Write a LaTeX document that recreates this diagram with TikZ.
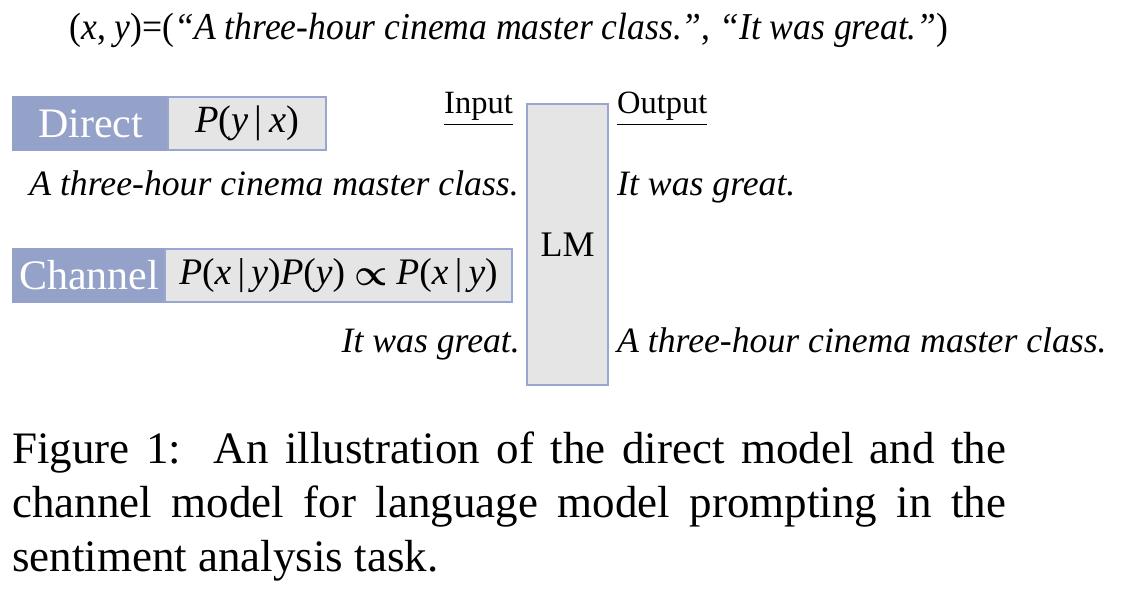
\documentclass[tikz,border=0pt]{standalone}
\usepackage{fontspec}
\usepackage{graphicx}
\usepackage{amsmath}
\usepackage{amssymb}
\usepackage{bm}
\setmainfont{Liberation Serif}
\definecolor{lmblue}{RGB}{148,162,202}
\definecolor{lmborder}{RGB}{152,166,208}
\definecolor{lmgray}{RGB}{229,229,229}
\tikzset{
  bluebox/.style={rectangle,fill=lmblue,draw=lmblue,line width=1.5pt,inner sep=0pt,outer sep=0pt,anchor=north west,text=white,font=\fontsize{42}{46}\selectfont},
  graybox/.style={rectangle,fill=lmgray,draw=lmborder,line width=1.5pt,inner sep=0pt,outer sep=0pt,anchor=north west,font=\fontsize{38.5}{42}\selectfont},
  ital/.style={inner sep=0pt,font=\fontsize{35.7}{40}\selectfont\itshape},
  lbl/.style={inner sep=0pt,font=\fontsize{32.5}{36}\selectfont},
  captxt/.style={inner sep=0pt,anchor=base west,font=\fontsize{45}{54}\selectfont}
}
\begin{document}
\begin{tikzpicture}[x=1pt,y=-1pt]
\useasboundingbox (0,0) rectangle (1124,592);
% title
\node[inner sep=0pt,anchor=base,xscale=0.936,font=\fontsize{38}{42}\selectfont] (title) at (509,39) {(\textit{x}, \textit{y})=(\textit{“A three-hour cinema master class.”}, \textit{“It was great.”})};
% direct
\node[bluebox,minimum width=155pt,minimum height=53pt] (direct) at (13,97) {Direct};
\node[graybox,minimum width=158pt,minimum height=53pt] (pdirect) at (168,97) {\textit{P}(\textit{y}\,|\,\textit{x})};
% channel
\node[bluebox,minimum width=152pt,minimum height=53pt] (channel) at (13,249) {Channel};
\node[graybox,minimum width=347pt,minimum height=53pt,font=\fontsize{37.5}{42}\selectfont] (pchannel) at (165,249) {\textit{P}(\textit{x}\,|\,\textit{y})\textit{P}(\textit{y})\hspace{9pt}\raisebox{-1.5pt}{\scalebox{1.5}{$\bm{\propto}$}}\hspace{9pt}\textit{P}(\textit{x}\,|\,\textit{y})};
% LM
\node[graybox,minimum width=81pt,minimum height=281pt] (lm) at (527,104) {};
\node[inner sep=0pt,font=\fontsize{36}{40}\selectfont] (lmtext) at (lm.center) {LM};
% labels
\node[lbl,anchor=base east] (input) at (513,113) {\underline{Input}};
\node[lbl,anchor=base west] (output) at (617,113) {\underline{Output}};
% sentences
\node[ital,anchor=base east] (x1) at (519,195) {A three-hour cinema master class.};
\node[ital,anchor=base west] (y1) at (617,195) {It was great.};
\node[ital,anchor=base east] (y2) at (520,352) {It was great.};
\node[ital,anchor=base west] (x2) at (617,352) {A three-hour cinema master class.};
% caption
\node[captxt] (c1) at (12,463) {\makebox[994pt][s]{Figure 1:\ \ An illustration of the direct model and the}};
\node[captxt] (c2) at (12,517) {\makebox[994pt][s]{channel model for language model prompting in the}};
\node[captxt] (c3) at (12,571) {sentiment analysis task.};
\end{tikzpicture}
\end{document}
